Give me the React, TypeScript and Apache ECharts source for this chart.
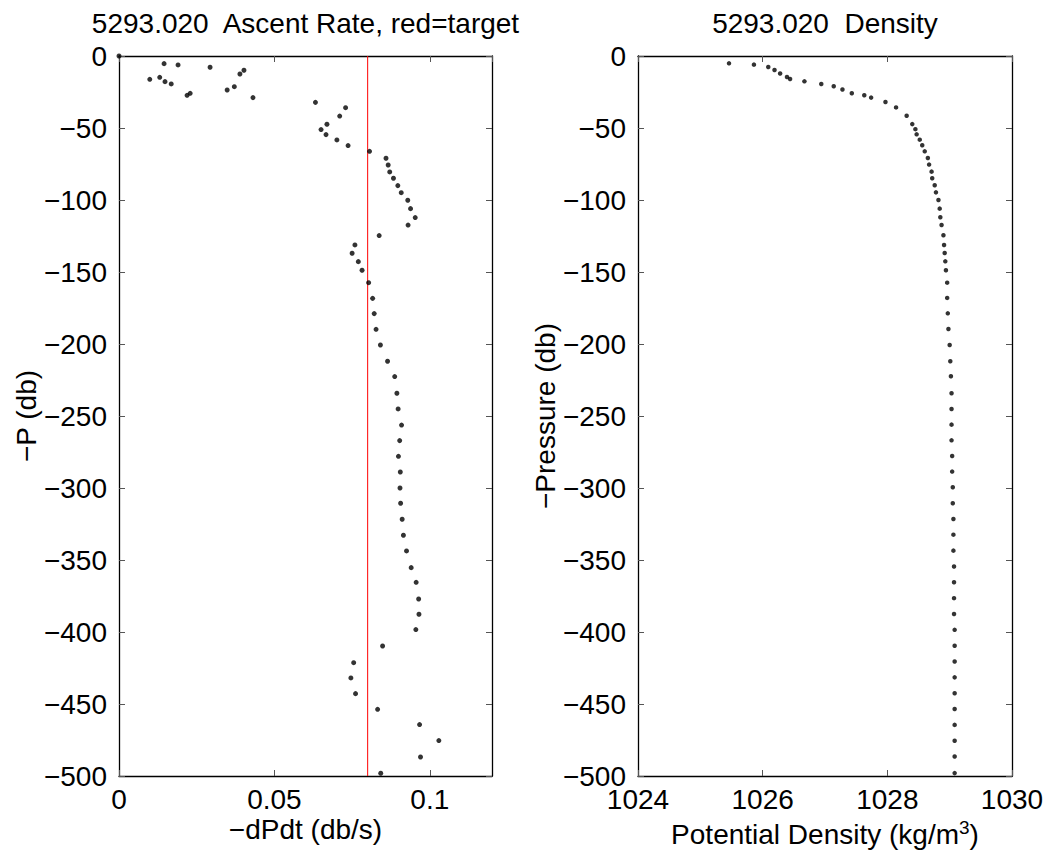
import React, { useEffect, useRef } from 'react';
import * as echarts from 'echarts';

const castId = '5293.020';
const targetRate = 0.08;

// Left panel: ascent rate (-dPdt, db/s) against -P (db)
const rateValues = [
  0.0, 0.0145, 0.019, 0.0293, 0.0402, 0.0389, 0.0131, 0.0099, 0.0148, 0.0168,
  0.0371, 0.0348, 0.0229, 0.0219, 0.0431, 0.0632, 0.0729, 0.071, 0.0669, 0.065,
  0.0666, 0.0701, 0.0737, 0.0806, 0.0859, 0.0866, 0.0871, 0.0883, 0.0897, 0.0908,
  0.0929, 0.0938, 0.0953, 0.093, 0.0837, 0.0759, 0.075, 0.077, 0.0782, 0.0803,
  0.0816, 0.0821, 0.0827, 0.0841, 0.0864, 0.0887, 0.0894, 0.0898, 0.0909, 0.0903,
  0.0899, 0.0905, 0.0904, 0.0906, 0.0911, 0.0915, 0.0925, 0.094, 0.0956, 0.0964,
  0.0965, 0.0955, 0.0848, 0.0755, 0.0746, 0.0761, 0.0832, 0.0967, 0.1029, 0.097,
  0.0842,
];
const ratePressure = [
  0, -5.3, -6.2, -7.8, -9.9, -12.5, -14.8, -16.2, -17.8, -19.4,
  -21.3, -23.6, -25.9, -27.3, -28.9, -32.2, -35.9, -41.7, -47.4, -51.1,
  -54.6, -58.3, -62.2, -66.2, -71.0, -75.7, -80.5, -84.9, -90.0, -94.9,
  -100.2, -106.0, -112.2, -117.4, -124.7, -131.2, -137.0, -142.8, -148.8, -157.4,
  -168.3, -178.9, -189.8, -200.7, -212.0, -222.6, -234.2, -245.1, -256.3, -267.1,
  -278.0, -288.9, -300.0, -310.6, -321.7, -332.8, -343.7, -355.3, -365.5, -377.1,
  -387.7, -398.3, -409.7, -421.3, -431.9, -442.8, -453.7, -464.3, -475.4, -486.8,
  -498.1,
];

// Right panel: potential density (kg/m^3) against -Pressure (db)
const densityValues = [
  1025.46, 1025.86, 1026.09, 1026.19, 1026.28, 1026.39, 1026.44, 1026.67, 1026.94, 1027.14,
  1027.28, 1027.43, 1027.63, 1027.74, 1027.97, 1028.14, 1028.31, 1028.4, 1028.45, 1028.47,
  1028.52, 1028.56, 1028.6, 1028.65, 1028.67, 1028.71, 1028.72, 1028.76, 1028.78, 1028.82,
  1028.84, 1028.85, 1028.87, 1028.9, 1028.91, 1028.92, 1028.93, 1028.94, 1028.96, 1028.96,
  1028.97, 1028.98, 1029.0, 1029.01, 1029.02, 1029.03, 1029.03, 1029.03, 1029.03, 1029.04,
  1029.04, 1029.05, 1029.05, 1029.06, 1029.06, 1029.06, 1029.07, 1029.07, 1029.07, 1029.07,
  1029.08, 1029.08, 1029.08, 1029.08, 1029.08, 1029.08, 1029.08, 1029.08, 1029.08, 1029.08,
];
const densityPressure = [
  -5.1, -6.0, -7.6, -9.7, -12.2, -14.6, -16.0, -17.6, -19.4, -21.0,
  -23.3, -25.9, -27.3, -28.9, -31.9, -35.7, -41.5, -47.3, -50.8, -54.4,
  -58.1, -62.0, -66.2, -70.8, -75.4, -80.3, -84.9, -89.8, -94.7, -100.0,
  -106.0, -112.0, -117.4, -124.5, -131.2, -136.8, -142.6, -148.8, -157.4, -168.0,
  -178.7, -189.6, -200.7, -212.0, -222.4, -234.2, -245.1, -256.0, -266.9, -277.8,
  -288.6, -299.5, -310.6, -321.5, -332.4, -343.5, -354.5, -365.5, -376.5, -387.5,
  -398.5, -409.5, -420.5, -431.5, -442.5, -453.5, -464.5, -475.5, -486.5, -498.0,
];

const pressureRange = [-500, 0];
const pressureStep = 50;
const rateRange = [0, 0.12];
const rateStep = 0.05;
const densityRange = [1024, 1030];
const densityStep = 2;

const FONT = "'Liberation Sans', Arial, Helvetica, sans-serif";
const FS = 28;

const minusFmt = (v: number) => (v < 0 ? '\u2212' + String(-v) : String(v));
const plainFmt = (v: number) => String(v);

function xAxes(gridIndex: number, range: number[], step: number, showMax: boolean) {
  const base = {
    gridIndex,
    type: 'value',
    min: range[0],
    max: range[1],
    interval: step,
    splitLine: { show: false },
    axisLine: { show: true, onZero: false, lineStyle: { color: '#000', width: 1.3 } },
    axisTick: { show: true, inside: true, length: 6, lineStyle: { color: '#555', width: 1 } },
  };
  return [
    {
      ...base,
      position: 'bottom',
      axisLabel: {
        show: true,
        margin: 9,
        color: '#000',
        fontSize: FS,
        fontFamily: FONT,
        showMaxLabel: showMax,
        showMinLabel: true,
        formatter: plainFmt,
      },
    },
    { ...base, position: 'top', axisLabel: { show: false } },
  ];
}

function yAxes(gridIndex: number) {
  const base = {
    gridIndex,
    type: 'value',
    min: pressureRange[0],
    max: pressureRange[1],
    interval: pressureStep,
    splitLine: { show: false },
    axisLine: { show: true, onZero: false, lineStyle: { color: '#000', width: 1.3 } },
    axisTick: { show: true, inside: true, length: 6, lineStyle: { color: '#555', width: 1 } },
  };
  return [
    {
      ...base,
      position: 'left',
      axisLabel: {
        show: true,
        margin: 12,
        color: '#000',
        fontSize: FS,
        fontFamily: FONT,
        formatter: minusFmt,
      },
    },
    { ...base, position: 'right', axisLabel: { show: false } },
  ];
}

function txt(x: number, y: number, text: string, rotation = 0) {
  return {
    type: 'text',
    x,
    y,
    rotation,
    style: {
      text,
      fill: '#000',
      fontSize: FS,
      fontFamily: FONT,
      align: 'center',
      verticalAlign: 'middle',
    },
  };
}

export default function App() {
  const ref = useRef<HTMLDivElement>(null);

  useEffect(() => {
    if (!ref.current) return;
    const chart = echarts.init(ref.current, null, { renderer: 'svg' });

    const leftData = rateValues.map((v, i) => [v, ratePressure[i]]);
    const rightData = densityValues.map((v, i) => [v, densityPressure[i]]);

    const option = {
      animation: false,
      backgroundColor: '#fff',
      grid: [
        { left: 119, top: 56, width: 373, height: 720 },
        { left: 638, top: 56, width: 374, height: 720 },
      ],
      xAxis: [...xAxes(0, rateRange, rateStep, false), ...xAxes(1, densityRange, densityStep, true)],
      yAxis: [...yAxes(0), ...yAxes(1)],
      series: [
        {
          type: 'line',
          xAxisIndex: 0,
          yAxisIndex: 0,
          data: [
            [targetRate, pressureRange[1]],
            [targetRate, pressureRange[0]],
          ],
          symbol: 'none',
          lineStyle: { color: '#ff0000', width: 1 },
          silent: true,
          z: 1,
        },
        {
          type: 'scatter',
          xAxisIndex: 0,
          yAxisIndex: 0,
          data: leftData,
          symbol: 'circle',
          symbolSize: 5,
          itemStyle: { color: '#000' },
          z: 3,
        },
        {
          type: 'scatter',
          xAxisIndex: 2,
          yAxisIndex: 2,
          data: rightData,
          symbol: 'circle',
          symbolSize: 4.5,
          itemStyle: { color: '#000' },
          z: 3,
        },
      ],
      graphic: [
        txt(305.5, 23, `${castId}  Ascent Rate, red=target`),
        txt(825, 23, `${castId}  Density`),
        txt(305.5, 829, '\u2212dPdt (db/s)'),
        txt(26, 416, '\u2212P (db)', Math.PI / 2),
        txt(545, 416, '\u2212Pressure (db)', Math.PI / 2),
        {
          type: 'text',
          x: 825,
          y: 834,
          style: {
            text: '{base|Potential Density (kg/m}{sup|3}{base|)}',
            fill: '#000',
            fontSize: FS,
            fontFamily: FONT,
            align: 'center',
            verticalAlign: 'middle',
            rich: {
              base: {
                fontSize: FS,
                fontFamily: FONT,
                fill: '#000',
                lineHeight: 28,
                verticalAlign: 'middle',
              },
              sup: {
                fontSize: 19,
                fontFamily: FONT,
                fill: '#000',
                lineHeight: 14,
                height: 14,
                verticalAlign: 'top',
              },
            },
          },
        },
      ],
    };

    chart.setOption(option as any);
    return () => chart.dispose();
  }, []);

  return (
    <div
      ref={ref}
      style={{ position: 'fixed', left: 0, top: 0, width: 1047, height: 854, background: '#fff' }}
    />
  );
}
